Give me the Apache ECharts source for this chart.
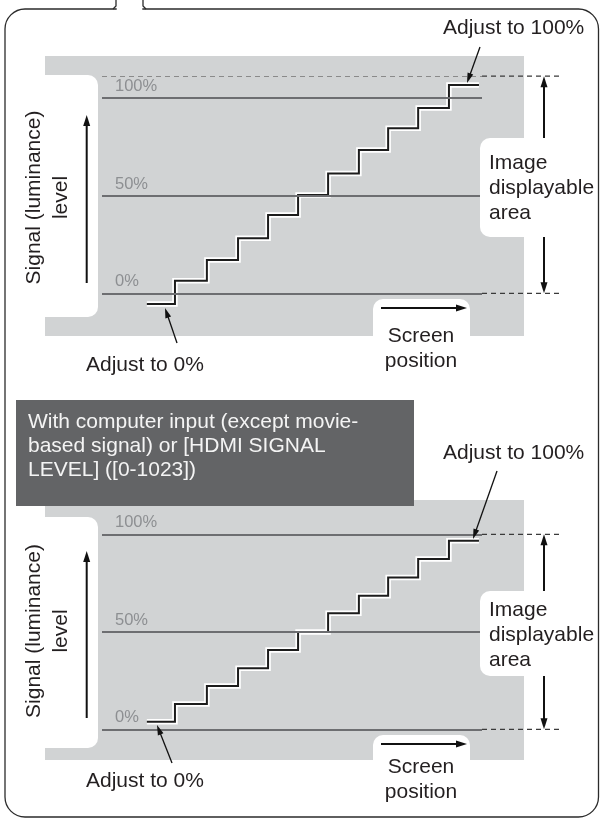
<!DOCTYPE html>
<html>
<head>
<meta charset="utf-8">
<script src="https://cdn.jsdelivr.net/npm/echarts@6/dist/echarts.min.js"></script>
<style>
  html, body { margin: 0; padding: 0; background: #fff; }
  #main { width: 600px; height: 819px; }
</style>
</head>
<body>
<div id="main"></div>
<script>
// screen position (% of width) where each step starts; the last value closes the top step
var stepX = [11.8, 19.2, 27.6, 35.8, 43.7, 51.6, 59.5, 67.6, 75.3, 83.2, 91.3, 99.2];
// signal level (%) of each of the 11 steps
var levelsVideo = [-5.5, 6.4, 17.0, 28.1, 40.0, 50.3, 61.3, 73.3, 84.4, 94.7, 106.5];
var levelsComputer = [3.9, 13.0, 22.2, 31.3, 40.7, 49.9, 59.5, 68.5, 77.9, 87.3, 96.7];
var refLevels = [0, 50, 100];
var refLabels = ['0%', '50%', '100%'];
// bottom / top of the image displayable area (%)
var displayVideo = [0, 111];
var displayComputer = [0, 100];
var boxText = ['With computer input (except movie-', 'based signal) or [HDMI SIGNAL', 'LEVEL] ([0-1023])'];
var areaText = ['Image', 'displayable', 'area'];

var font = '"Liberation Sans", Arial, sans-serif';
var ink = '#231f20';
var chart = echarts.init(document.getElementById('main'));

function stairData(levels) {
  var pts = [];
  for (var i = 0; i < levels.length; i++) pts.push([stepX[i], levels[i]]);
  pts.push([stepX[levels.length], levels[levels.length - 1]]);
  return pts;
}

var panels = [
  { levels: levelsVideo, display: displayVideo },
  { levels: levelsComputer, display: displayComputer }
];

var series = [];
panels.forEach(function (p, i) {
  var lines = refLevels.map(function (v, k) {
    return { yAxis: v, label: { formatter: refLabels[k] } };
  });
  if (refLevels.indexOf(p.display[1]) < 0) {
    lines.push({ yAxis: p.display[1], lineStyle: { type: [5, 4], color: '#8a8a8a', width: 1.2 }, label: { show: false } });
  }
  series.push({
    type: 'line', xAxisIndex: i, yAxisIndex: i, data: [], z: 1, silent: true,
    markLine: {
      silent: true, symbol: ['none', 'none'], animation: false,
      lineStyle: { color: '#6d6e71', width: 2, type: 'solid' },
      label: { position: 'insideStartTop', distance: [13, 3], color: '#8d8f92', fontSize: 16.5, fontFamily: font },
      data: lines
    }
  });
  series.push({
    type: 'line', step: 'end', xAxisIndex: i, yAxisIndex: i, data: stairData(p.levels),
    symbol: 'none', clip: false, z: 3, silent: true,
    lineStyle: { color: '#fff', width: 5.5, join: 'miter' }
  });
  series.push({
    type: 'line', step: 'end', xAxisIndex: i, yAxisIndex: i, data: stairData(p.levels),
    symbol: 'none', clip: false, z: 4, silent: true,
    lineStyle: { color: '#1c1c1c', width: 2, join: 'miter' }
  });
});

chart.setOption({
  animation: false,
  grid: [
    { left: 102, top: 58.6, width: 380, height: 273.8 },
    { left: 102, top: 495.3, width: 380, height: 273 }
  ],
  xAxis: [0, 1].map(function (i) {
    return { type: 'value', gridIndex: i, min: 0, max: 100, show: false };
  }),
  yAxis: [0, 1].map(function (i) {
    return { type: 'value', gridIndex: i, min: -20, max: 120, show: false };
  }),
  series: series
});

// ---- decoration ----
var g = [];
function txt(s, x, y, opt) {
  opt = opt || {};
  g.push({
    type: 'text', x: x, y: y, z: 20, rotation: opt.rot || 0,
    style: {
      text: s, fill: opt.color || ink, font: (opt.size || 21) + 'px ' + font,
      textAlign: opt.align || 'left', textVerticalAlign: 'middle'
    }
  });
}
function arrow(x1, y1, x2, y2, w, hl, hw, z) {
  var dx = x2 - x1, dy = y2 - y1, len = Math.sqrt(dx * dx + dy * dy);
  var ux = dx / len, uy = dy / len;
  var bx = x2 - ux * hl, by = y2 - uy * hl;
  g.push({ type: 'line', z: z || 15, shape: { x1: x1, y1: y1, x2: bx + ux * 2, y2: by + uy * 2 }, style: { stroke: '#111', lineWidth: w } });
  g.push({
    type: 'polygon', z: z || 15,
    shape: { points: [[x2, y2], [bx - uy * hw / 2, by + ux * hw / 2], [bx + uy * hw / 2, by - ux * hw / 2]] },
    style: { fill: '#111' }
  });
}
function rect(x, y, w, h, fill, r, z) {
  g.push({ type: 'rect', z: z, shape: { x: x, y: y, width: w, height: h, r: r || 0 }, style: { fill: fill } });
}

// outer frame with the tab at the top
g.push({
  type: 'rect', z: 30,
  shape: { x: 5, y: 9, width: 593.5, height: 808, r: 20 },
  style: { fill: null, stroke: '#2b2b2b', lineWidth: 1.3 }
});
g.push({ type: 'rect', z: 31, shape: { x: 116.7, y: 6, width: 25.6, height: 6 }, style: { fill: '#fff' } });
g.push({ type: 'polyline', z: 31, shape: { points: [[116, 0], [116, 6], [113, 9]] }, style: { fill: null, stroke: '#2b2b2b', lineWidth: 1.3 } });
g.push({ type: 'polyline', z: 31, shape: { points: [[143, 0], [143, 6], [146, 9]] }, style: { fill: null, stroke: '#2b2b2b', lineWidth: 1.3 } });

var layout = [
  { grayTop: 56, grayBot: 336, notch: [75, 317], box: [138, 237], areaY: 170, scrTop: 299, scrArrow: 308, scrY: 343,
    a100Y: 35, p100: [480, 47, 467, 83], a0Y: 372, p0: [177, 343, 165, 308], sigY: 197.5, up: [283, 115] },
  { grayTop: 500, grayBot: 760, notch: [517, 748], box: [591, 676], areaY: 617, scrTop: 735, scrArrow: 744, scrY: 774,
    a100Y: 460, p100: [497, 471, 473, 539], a0Y: 788, p0: [172, 763, 157, 725], sigY: 631, up: [718, 551] }
];

layout.forEach(function (L, i) {
  var p = panels[i];
  rect(45, L.grayTop, 479, L.grayBot - L.grayTop, '#d1d3d4', 0, -5);
  rect(38, L.notch[0], 60, L.notch[1] - L.notch[0], '#fff', [0, 10, 10, 0], -4);
  rect(480, L.box[0], 60, L.box[1] - L.box[0], '#fff', [10, 0, 0, 10], 12);
  rect(373, L.scrTop, 97, L.grayBot - L.scrTop + 2, '#fff', [10, 10, 0, 0], 12);

  var xEnd = chart.convertToPixel({ gridIndex: i }, [100, 0])[0];
  var yTop = chart.convertToPixel({ gridIndex: i }, [100, p.display[1]])[1];
  var yBot = chart.convertToPixel({ gridIndex: i }, [100, p.display[0]])[1];
  [yTop, yBot].forEach(function (y) {
    g.push({ type: 'line', z: 10, shape: { x1: xEnd, y1: y, x2: 561, y2: y }, style: { stroke: '#3a3a3a', lineWidth: 1.3, lineDash: [5, 4] } });
  });
  arrow(544, L.box[0], 544, yTop, 2, 11, 7);
  arrow(544, L.box[1], 544, yBot, 2, 11, 7);
  areaText.forEach(function (s, k) { txt(s, 489, L.areaY + k * 25 - 7); });

  arrow(381, L.scrArrow, 467, L.scrArrow, 2, 11, 7);
  txt('Screen', 421, L.scrY - 7, { align: 'center' });
  txt('position', 421, L.scrY + 25 - 7, { align: 'center' });

  txt('Adjust to 100%', 443, L.a100Y - 7);
  arrow(L.p100[0], L.p100[1], L.p100[2], L.p100[3], 1.3, 10, 6);
  txt('Adjust to 0%', 86, L.a0Y - 7);
  arrow(L.p0[0], L.p0[1], L.p0[2], L.p0[3], 1.3, 10, 6);

  txt('Signal (luminance)', 34, L.sigY, { rot: Math.PI / 2, align: 'center' });
  txt('level', 61, L.sigY, { rot: Math.PI / 2, align: 'center' });
  arrow(86.7, L.up[0], 86.7, L.up[1], 2, 11, 7);
});

// heading box of the second panel
rect(16, 400, 398, 106, '#636466', 0, 8);
boxText.forEach(function (s, k) { txt(s, 28, 429 + k * 24 - 7, { color: '#f4f4f4' }); });

chart.setOption({ graphic: { elements: g } });
</script>
</body>
</html>
